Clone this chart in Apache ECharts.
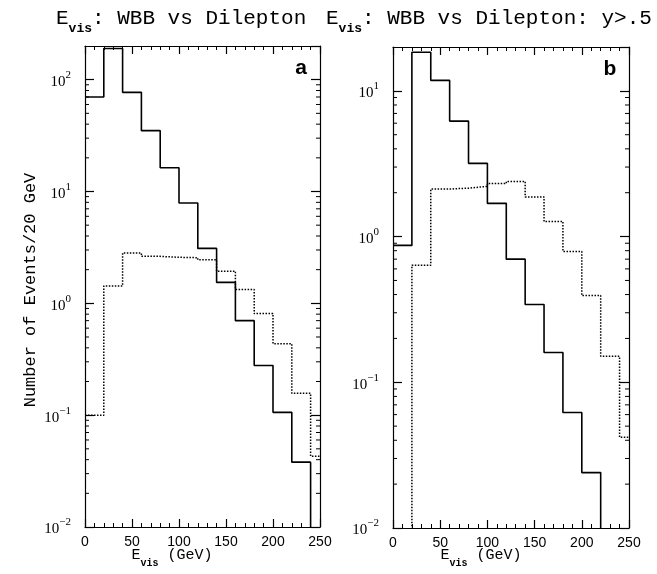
<!DOCTYPE html>
<html>
<head>
<meta charset="utf-8">
<script src="https://cdn.jsdelivr.net/npm/echarts@6/dist/echarts.min.js"></script>
<style>html,body{margin:0;padding:0;background:#fff}#c{width:657px;height:574px}</style>
</head>
<body>
<div id="c"></div>
<script>
// ---- data (bins of 20 GeV; last bin 240-250) ----
const binStarts = [0, 20, 40, 60, 80, 100, 120, 140, 160, 180, 200, 220, 240];
const binEnd = 250;
const EMPTY = 1e-4; // empty bin (below plotted range)
// Panel a: E_vis, WBB (solid) vs Dilepton (dotted)
const aSolid  = [70, 190, 77, 35, 16.3, 7.9, 3.1, 1.54, 0.70, 0.278, 0.106, 0.038, EMPTY];
const aDotted = [0.1, 1.43, 2.82, 2.63, 2.58, 2.56, 2.45, 1.94, 1.33, 0.81, 0.435, 0.157, 0.043];
// Panel b: E_vis, y > .5
const bSolid  = [0.87, 18.4, 11.8, 6.2, 3.18, 1.69, 0.70, 0.342, 0.16, 0.062, 0.024, EMPTY, EMPTY];
const bDotted = [EMPTY, 0.636, 2.12, 2.15, 2.21, 2.31, 2.39, 1.87, 1.27, 0.79, 0.394, 0.151, 0.042];
const xTicks = [0, 50, 100, 150, 200, 250];
const yRangeA = [0.01, 200];
const yRangeB = [0.01, 20];
const titles = ['WBB vs Dilepton', 'WBB vs Dilepton: y>.5'];
const yTitle = 'Number of Events/20 GeV';
const xTitle = '(GeV)';

function steps(vals) {
  const pts = binStarts.map((x, i) => [x, vals[i]]);
  pts.push([binEnd, vals[vals.length - 1]]);
  return pts;
}
function minorVals(range) {
  const out = [];
  for (let e = -3; e <= 3; e++) {
    for (let m = 2; m <= 9; m++) {
      const v = m * Math.pow(10, e);
      if (v > range[0] * 1.0001 && v < range[1] * 0.9999) out.push([v]);
    }
  }
  return out;
}
function isPow10(v) {
  const l = Math.log10(v);
  return Math.abs(l - Math.round(l)) < 1e-6;
}
function yLabel(v) {
  if (!isPow10(v)) return '';
  const e = Math.round(Math.log10(v));
  return '{b|10}{s|' + (e < 0 ? '\u2212' + (-e) : e) + '}';
}
const labelRich = {
  b: { fontFamily: 'Liberation Serif', fontSize: 15, color: '#000', verticalAlign: 'bottom', lineHeight: 20 },
  s: { fontFamily: 'Liberation Serif', fontSize: 11, color: '#000', verticalAlign: 'top', lineHeight: 20 }
};
const titleRich = {
  e: { fontFamily: 'Liberation Mono', fontSize: 21, fontWeight: 'normal', color: '#000', verticalAlign: 'top', lineHeight: 27 },
  s: { fontFamily: 'Liberation Mono', fontSize: 13, fontWeight: 'bold', color: '#000', verticalAlign: 'bottom', lineHeight: 27 }
};
const xTitleRich = {
  e: { fontFamily: 'Liberation Mono', fontSize: 15, color: '#000', verticalAlign: 'top', lineHeight: 20 },
  s: { fontFamily: 'Liberation Mono', fontSize: 10, fontWeight: 'bold', color: '#000', verticalAlign: 'bottom', lineHeight: 20 }
};

const grids = [
  { left: 85, top: 46, width: 235, height: 481 },
  { left: 393, top: 47, width: 236, height: 481 }
];
const ranges = [yRangeA, yRangeB];

const xAxes = [], yAxes = [];
grids.forEach((g, i) => {
  ['bottom', 'top'].forEach(pos => {
    xAxes.push({
      type: 'value', gridIndex: i, position: pos, min: 0, max: 250, interval: 50,
      axisLine: { show: true, onZero: false, lineStyle: { color: '#000', width: 1.2 } },
      axisTick: { show: true, inside: true, length: 8, lineStyle: { color: '#000', width: 1.2 } },
      minorTick: { show: true, splitNumber: 5, length: 4, lineStyle: { color: '#000', width: 1 } },
      splitLine: { show: false },
      axisLabel: pos === 'bottom' ? {
        show: true, margin: 8, color: '#000', fontFamily: 'Liberation Sans', fontSize: 14,
        customValues: xTicks
      } : { show: false }
    });
  });
  ['left', 'right'].forEach(pos => {
    yAxes.push({
      type: 'log', logBase: 10, gridIndex: i, position: pos, min: ranges[i][0], max: ranges[i][1],
      splitNumber: 4,
      axisLine: { show: true, onZero: false, lineStyle: { color: '#000', width: 1.2 } },
      axisTick: { show: true, inside: true, length: 9, lineStyle: { color: '#000', width: 1.2 } },
      splitLine: { show: false },
      axisLabel: pos === 'left' ? {
        show: true, margin: 14, formatter: yLabel, rich: labelRich, showMaxLabel: false
      } : { show: false }
    });
  });
});

function minorSeries(i) {
  return {
    type: 'custom', xAxisIndex: i * 2, yAxisIndex: i * 2, silent: true, clip: false,
    data: minorVals(ranges[i]),
    encode: { y: 0 },
    renderItem: function (params, api) {
      const v = api.value(0);
      const pl = api.coord([0, v]);
      const pr = api.coord([250, v]);
      return {
        type: 'group', children: [
          { type: 'line', shape: { x1: pl[0], y1: pl[1], x2: pl[0] + 4, y2: pl[1] }, style: { stroke: '#000', lineWidth: 1 } },
          { type: 'line', shape: { x1: pr[0], y1: pr[1], x2: pr[0] - 4, y2: pr[1] }, style: { stroke: '#000', lineWidth: 1 } }
        ]
      };
    }
  };
}
function hist(i, vals, dotted) {
  return {
    type: 'line', xAxisIndex: i * 2, yAxisIndex: i * 2, step: 'end', showSymbol: false, symbol: 'none',
    clip: true, animation: false, data: steps(vals),
    lineStyle: { color: '#000', width: dotted ? 1.5 : 1.6, type: dotted ? 'dotted' : 'solid' }
  };
}

const chart = echarts.init(document.getElementById('c'), null, { renderer: 'canvas' });
chart.setOption({
  animation: false,
  backgroundColor: '#fff',
  title: [
    { left: 51, top: 3, text: '{e|E}{s|vis}{e|: ' + titles[0] + '}', textStyle: { fontWeight: 'normal', rich: titleRich } },
    { left: 321, top: 3, text: '{e|E}{s|vis}{e|: ' + titles[1] + '}', textStyle: { fontWeight: 'normal', rich: titleRich } }
  ],
  grid: grids,
  xAxis: xAxes,
  yAxis: yAxes,
  series: [
    hist(0, aSolid, false), hist(0, aDotted, true), minorSeries(0),
    hist(1, bSolid, false), hist(1, bDotted, true), minorSeries(1)
  ],
  graphic: [
    { type: 'text', x: 30, y: 290, rotation: Math.PI / 2,
      style: { text: yTitle, fontFamily: 'Liberation Mono', fontSize: 17, fill: '#000', textAlign: 'center', textVerticalAlign: 'middle' } },
    { type: 'text', x: 172, y: 558,
      style: { text: '{e|E}{s|vis}{e| ' + xTitle + '}', rich: xTitleRich, textAlign: 'center', textVerticalAlign: 'middle' } },
    { type: 'text', x: 481, y: 558,
      style: { text: '{e|E}{s|vis}{e| ' + xTitle + '}', rich: xTitleRich, textAlign: 'center', textVerticalAlign: 'middle' } },
    { type: 'text', x: 301, y: 68,
      style: { text: 'a', fontFamily: 'Liberation Sans', fontWeight: 'bold', fontSize: 21, fill: '#000', textAlign: 'center', textVerticalAlign: 'middle' } },
    { type: 'text', x: 610, y: 69,
      style: { text: 'b', fontFamily: 'Liberation Sans', fontWeight: 'bold', fontSize: 21, fill: '#000', textAlign: 'center', textVerticalAlign: 'middle' } }
  ]
});
</script>
</body>
</html>
